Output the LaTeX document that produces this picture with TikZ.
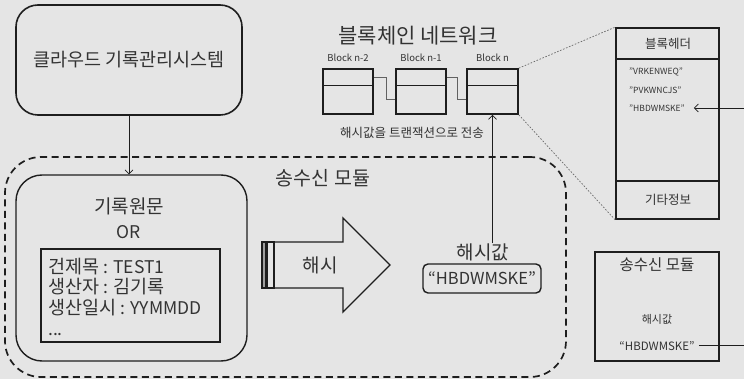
\documentclass[tikz,border=0pt]{standalone}
\usepackage{fontspec}
\setmainfont{Noto Sans CJK KR}
\usetikzlibrary{arrows.meta}
\definecolor{bg}{HTML}{E5E5E5}
\definecolor{ink}{HTML}{1E1E1E}
\definecolor{txt}{HTML}{333333}
\definecolor{dotc}{HTML}{6A6A6A}
\newcommand{\lat}[1]{{\fontsize{17.5}{20}\selectfont #1}}
\begin{document}
\begin{tikzpicture}[x=1pt,y=-1pt,
  every node/.style={inner sep=0pt, text=txt},
  rbox/.style={draw=ink, line width=1.6pt, rounded corners=22pt},
  sqbox/.style={draw=ink, line width=1.7pt},
  big/.style={font=\fontsize{19}{22}\selectfont},
  recf/.style={font=\fontsize{18.5}{22}\selectfont, anchor=base west, text height=13pt, text depth=3pt},
  mid/.style={font=\fontsize{12.5}{15}\selectfont},
  small/.style={font=\fontsize{8.5}{10}\selectfont},
  blk/.style={font=\fontsize{9.5}{11}\selectfont},
  thinarrow/.style={draw=ink, line width=0.6pt, -{Straight Barb[length=4pt,width=8pt,line width=0.7pt]}},
  link/.style={draw=ink!70, line width=0.8pt},
  dotline/.style={draw=dotc, line width=0.7pt, dash pattern=on 1.6pt off 1.6pt},
]
\fill[bg] (0,0) rectangle (744,379);
\useasboundingbox (0,0) rectangle (744,379);
\clip (0,0) rectangle (744,379);

% cloud system
\node[rbox, minimum width=226pt, minimum height=110pt, font=\fontsize{18.5}{22}\selectfont] (cloud) at (129,60) {클라우드 기록관리시스템};

% outer dashed module
\node[draw=ink, line width=1.7pt, dash pattern=on 7pt off 4.5pt, rounded corners=36pt,
      minimum width=561pt, minimum height=220pt] (outer) at (285.5,267) {};
\node[font=\fontsize{19.5}{22}\selectfont] (outerlbl) at (323,178) {송수신 모듈};

% original record
\node[draw=ink, line width=1.4pt, rounded corners=26pt, minimum width=231pt, minimum height=186pt] (orig) at (131.5,268) {};
\node[big] (origlbl) at (129,206) {기록원문};
\node[font=\fontsize{17.5}{20}\selectfont] (orlbl) at (129,232) {OR};
\node[draw=ink, line width=1.3pt, minimum width=179pt, minimum height=93pt] (rec) at (130.5,295.5) {};
\node[recf] (rec1) at (48,274) {건제목 \lat{: TEST1}};
\node[recf] (rec2) at (48,294) {생산자 \lat{:} 김기록};
\node[recf] (rec3) at (48,314) {생산일시 \lat{: YYMMDD}};
\node[recf] (rec4) at (48,335) {\lat{...}};

\draw[thinarrow] (cloud.south) -- (cloud.south |- orig.north);

% hash arrow
\draw[ink, line width=1.4pt, fill=bg] (274,242) -- (343,242) -- (343,218) -- (390,265) -- (343,312) -- (343,288) -- (274,288) -- cycle;
\draw[ink, line width=1.1pt, fill=gray!75] (262,242) rectangle (266,288);
\draw[ink, line width=1.1pt, fill=bg] (267,242) rectangle (274,288);
\node[big] (hashlbl) at (320,265) {해시};

% hash value
\node[big] (hvl) at (483,252) {해시값};
\node[draw=ink, line width=1.4pt, rounded corners=5pt, minimum width=118pt, minimum height=29pt, font=\fontsize{16.5}{20}\selectfont] (hv) at (482,278.5) {“HBDWMSKE”};

% blockchain
\node[font=\fontsize{21}{25}\selectfont] (title) at (418,36) {블록체인 네트워크};
\node[sqbox, minimum width=50pt, minimum height=45pt] (b2) at (348,91.5) {};
\node[sqbox, minimum width=50pt, minimum height=45pt] (b1) at (421,91.5) {};
\node[sqbox, minimum width=51pt, minimum height=45pt] (bn) at (492.5,91.5) {};
\foreach \b in {b2,b1,bn}{\draw[ink, line width=0.9pt] (\b.west |- 0,85) -- (\b.east |- 0,85);}
\node[blk] (b2l) at (348,58) {Block n-2};
\node[blk] (b1l) at (421,58) {Block n-1};
\node[blk] (bnl) at (492.5,58) {Block n};
\draw[link] (b2.east |- 0,77) -- (386,77) -- (386,99) -- (b1.west |- 0,99);
\draw[link] (b1.east |- 0,77) -- (457,77) -- (457,99) -- (bn.west |- 0,99);
\node[mid] (send) at (412,133) {해시값을 트랜잭션으로 전송};
\draw[thinarrow] (bn.south |- hvl.north) -- (bn.south);

% block header detail
\node[sqbox, minimum width=103pt, minimum height=191pt] (hdr) at (667.5,123.5) {};
\draw[ink, line width=1.1pt] (hdr.west |- 0,59) -- (hdr.east |- 0,59);
\draw[ink, line width=1.1pt] (hdr.west |- 0,181) -- (hdr.east |- 0,181);
\node[mid] (hdrt) at (668,44) {블록헤더};
\node[mid] (etc) at (668,200) {기타정보};
\node[small, anchor=west] (e1) at (629,72) {"VRKENWEQ"};
\node[small, anchor=west] (e2) at (629,90) {"PVKWNCJS"};
\node[small, anchor=west] (e3) at (629,108) {"HBDWMSKE"};
\draw[dotline] (bn.north east) -- (hdr.north west);
\draw[dotline] (bn.south east) -- (hdr.south west);
\coordinate (edgeA) at (752,108);
\draw[thinarrow] (edgeA) -- ([xshift=9pt]e3.east);

% transmit module (right)
\node[sqbox, minimum width=124pt, minimum height=109pt] (tr) at (657,306.5) {};
\node[font=\fontsize{15.5}{18}\selectfont] (trt) at (657,265) {송수신 모듈};
\node[font=\fontsize{11}{13}\selectfont] (trh) at (657,319) {해시값};
\node[font=\fontsize{11.5}{13}\selectfont] (trv) at (657,346) {“HBDWMSKE”};
\coordinate (edgeB) at (752,345);
\draw[ink, line width=0.8pt] ([xshift=4pt]trv.east |- edgeB) -- (edgeB);
\end{tikzpicture}
\end{document}
